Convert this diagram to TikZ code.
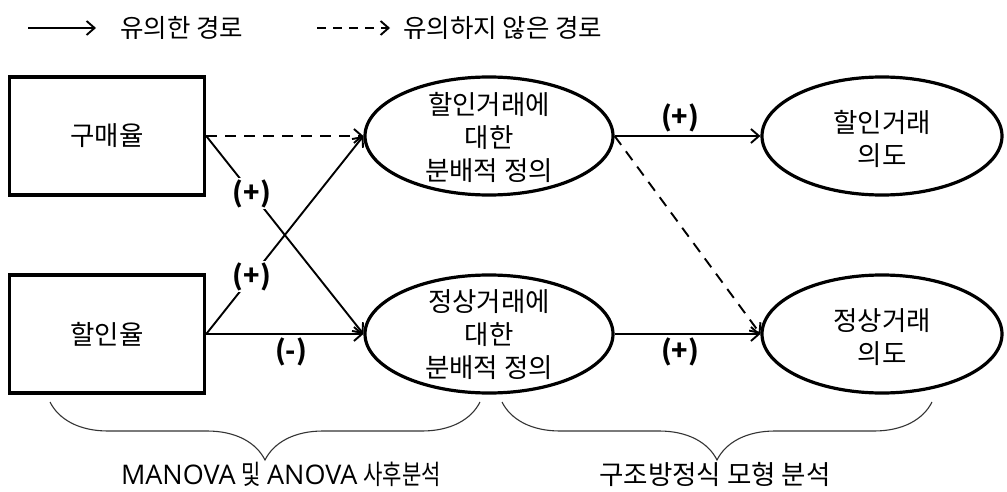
\documentclass[tikz,border=0pt]{standalone}
\usepackage{fontspec}
\setmainfont{Noto Sans CJK KR}
\newfontfamily\capl{Open Sans}
\newfontfamily\caph[FakeStretch=0.78]{Noto Sans CJK KR}
\usetikzlibrary{arrows.meta,shapes.geometric,decorations.pathreplacing}
\begin{document}
\begin{tikzpicture}[x=1pt,y=-1pt,
  box/.style={draw,line width=3.5pt,minimum width=195pt,minimum height=118pt,inner sep=0pt,font=\fontsize{26.5}{33}\selectfont},
  ell/.style={draw,ellipse,line width=3.2pt,minimum height=118pt,inner sep=0pt},
  etxt/.style={align=center,font=\fontsize{26.5}{33}\selectfont,inner sep=0pt},
  conn/.style={line width=1.9pt,-{Straight Barb[length=8pt,width=14pt,line width=1.9pt]}},
  dconn/.style={conn,dash pattern=on 11pt off 8pt},
  sign/.style={fill=white,inner sep=1pt,font=\bfseries\fontsize{27}{27}\selectfont},
  brc/.style={draw=black!80,line width=1.1pt,decorate,decoration={brace,mirror,amplitude=58pt}},
  captxt/.style={font=\fontsize{27}{27}\selectfont,inner sep=0pt,text height=18pt,text depth=3pt},
  leg/.style={font=\fontsize{25.5}{25.5}\selectfont,anchor=west,inner sep=0pt}]
\useasboundingbox (0,0) rectangle (1007,492);
% legend
\coordinate (l1a) at (28,28);
\coordinate (l1b) at (96,28);
\draw[conn] (l1a) -- (l1b);
\node[leg] (l1t) at (120,28) {유의한 경로};
\coordinate (l2a) at (317,28);
\coordinate (l2b) at (390,28);
\draw[conn,dash pattern=on 9pt off 7pt] (l2a) -- (l2b);
\node[leg] (l2t) at (403,28) {유의하지 않은 경로};
% boxes
\node[box] (b1) at (107,136) {구매율};
\node[box] (b2) at (107,334) {할인율};
% ellipses
\node[ell,minimum width=248pt] (e1) at (489,136) {};
\node[etxt] (e1t) at (489,137) {할인거래에\\대한\\분배적 정의};
\node[ell,minimum width=248pt] (e2) at (489,334) {};
\node[etxt] (e2t) at (489,335) {정상거래에\\대한\\분배적 정의};
\node[ell,minimum width=240pt] (e3) at (882,136) {};
\node[etxt] (e3t) at (882,139) {할인거래\\의도};
\node[ell,minimum width=240pt] (e4) at (882,334) {};
\node[etxt] (e4t) at (882,337) {정상거래\\의도};
% connectors
\draw[dconn] (b1.east) -- (e1.west);
\draw[conn] (b1.east) -- node[sign,pos=0.29] {(+)} (e2.west);
\draw[conn] (b2.east) -- node[sign,pos=0.29] {(+)} (e1.west);
\draw[conn] (b2.east) -- node[sign,fill=none,pos=0.54,below=2pt] {(-)} (e2.west);
\draw[conn] (e1.east) -- node[sign,fill=none,pos=0.45,above=2pt] {(+)} (e3.west);
\draw[dconn] (e1.east) -- (e4.west);
\draw[conn] (e2.east) -- node[sign,fill=none,pos=0.45,below=2pt] {(+)} (e4.west);
% braces
\coordinate (br1a) at (50,402);
\coordinate (br1b) at (480,402);
\draw[brc] (br1a) -- (br1b);
\node[captxt] (c1) at (281,477) {{\capl MANOVA} {\caph 및} {\capl ANOVA} {\caph 사후분석}};
\coordinate (br2a) at (502,402);
\coordinate (br2b) at (932,402);
\draw[brc] (br2a) -- (br2b);
\node[captxt,font=\fontsize{26.5}{26.5}\selectfont] (c2) at (715,477) {구조방정식 모형 분석};
\end{tikzpicture}
\end{document}
